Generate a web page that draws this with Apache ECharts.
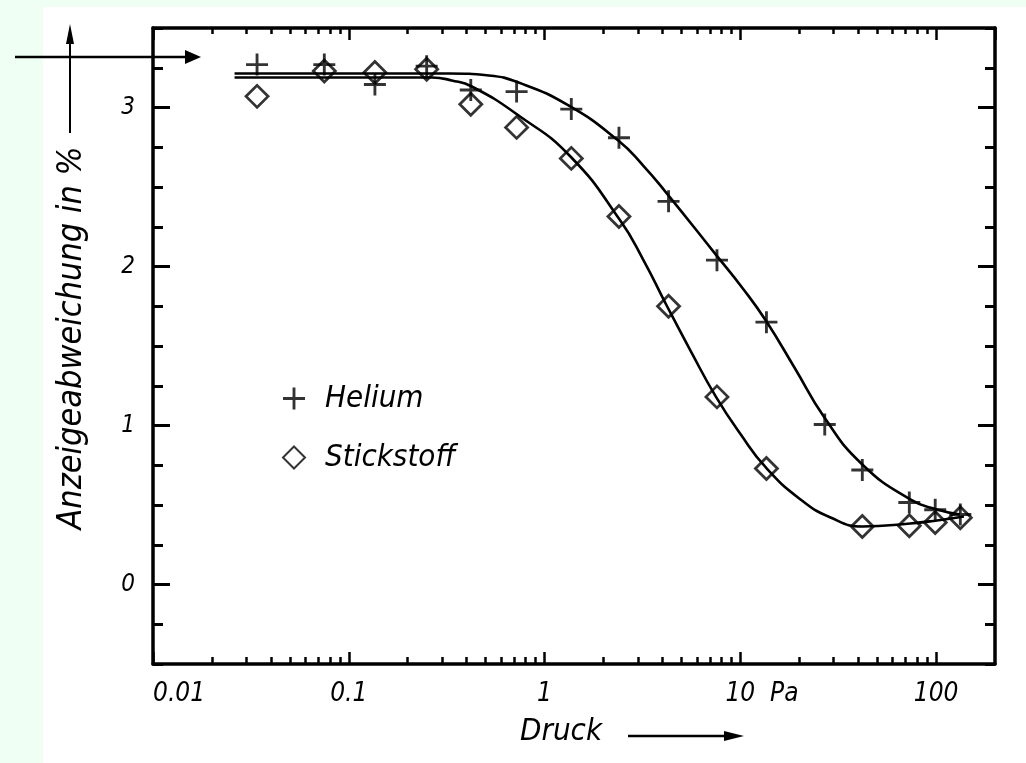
<!DOCTYPE html>
<html>
<head>
<meta charset="utf-8">
<title>Anzeigeabweichung</title>
<script src="https://cdn.jsdelivr.net/npm/echarts@6/dist/echarts.min.js"></script>
<style>
  html, body { margin: 0; padding: 0; background: #f0fff3; }
  #paper { position: absolute; left: 43px; top: 7px; width: 983px; height: 756px; background: #fff; }
  #chart { position: absolute; left: 0; top: 0; width: 1026px; height: 763px; }
</style>
</head>
<body>
<div id="paper"></div>
<div id="chart"></div>
<script>
// Messpunkte (Druck in Pa)
var druck      = [0.034, 0.075, 0.136, 0.25, 0.42, 0.72, 1.37, 2.4, 4.3, 7.6, 13.6, 27, 42, 73, 99, 133];
var helium     = [3.27, 3.27, 3.145, 3.26, 3.11, 3.10, 2.99, 2.81, 2.41, 2.04, 1.65, 1.006, 0.72, 0.516, 0.47, 0.44];
var stickstoff = [3.07, 3.23, 3.22, 3.24, 3.02, 2.875, 2.68, 2.315, 1.75, 1.18, 0.73, '-', 0.365, 0.37, 0.39, 0.42];

// Ausgleichskurven
var heliumKurveX = [0.0261, 0.1006, 0.325, 0.519, 0.737, 1.325, 2.38, 3.19, 4.18, 7.5, 10.3, 13.5, 18.9, 26.9, 42.0, 73.8, 101, 132.5];
var heliumKurveY = [3.214, 3.214, 3.214, 3.201, 3.157, 3.013, 2.792, 2.635, 2.465, 2.075, 1.862, 1.660, 1.365, 1.050, 0.755, 0.535, 0.472, 0.440];
var stickKurveX  = [0.0261, 0.1006, 0.266, 0.336, 0.425, 0.737, 1.356, 2.437, 3.19, 4.18, 5.6, 7.5, 10.06, 13.5, 20.3, 28.9, 42.0, 73.8, 101, 138.8];
var stickKurveY  = [3.189, 3.189, 3.189, 3.170, 3.132, 2.950, 2.692, 2.289, 2.044, 1.761, 1.465, 1.182, 0.943, 0.736, 0.535, 0.421, 0.365, 0.384, 0.403, 0.428];

// Achsenteilung
var yMajor = [0, 1, 2, 3];
var xMinor = [0.02, 0.03, 0.04, 0.05, 0.06, 0.07, 0.08, 0.09,
              0.2, 0.3, 0.4, 0.5, 0.6, 0.7, 0.8, 0.9,
              2, 3, 4, 5, 6, 7, 8, 9,
              20, 30, 40, 50, 60, 70, 80, 90];

var FONT = "'DejaVu Sans Condensed', 'Liberation Sans Narrow', 'DejaVu Sans', sans-serif";
var NARROW = "'Liberation Sans Narrow', 'DejaVu Sans Condensed', 'DejaVu Sans', sans-serif";
var PLUS = 'path://M8.7,0h2.6v8.7h8.7v2.6h-8.7v8.7h-2.6v-8.7h-8.7v-2.6h8.7z';
var xMinorLog = xMinor.map(function (v) { return Math.log10(v); });
var logMax = Math.log10(200);

function zip(xs, ys) {
    return xs.map(function (x, i) { return [x, ys[i]]; });
}

var chart = echarts.init(document.getElementById('chart'));

var lineBlack = { color: '#000', width: 3.5 };
var off = { show: false };

var option = {
    animation: false,
    backgroundColor: 'transparent',
    grid: {
        left: 153, right: 31, top: 28, bottom: 99,
        containLabel: false,
        outerBoundsMode: 'none'
    },
    legend: {
        data: ['Helium', 'Stickstoff'],
        orient: 'vertical',
        left: 277,
        top: 378,
        itemWidth: 22,
        itemHeight: 22,
        itemGap: 28,
        selectedMode: false,
        textStyle: {
            fontFamily: FONT, fontStyle: 'italic', fontSize: 31, color: '#000',
            padding: [0, 0, 0, 15]
        }
    },
    xAxis: [
        {
            type: 'log', logBase: 10, min: 0.01, max: 200, interval: 1,
            position: 'bottom',
            name: 'Druck', nameLocation: 'middle', nameGap: 52,
            nameTextStyle: {
                fontFamily: FONT, fontStyle: 'italic', fontSize: 31, color: '#000',
                padding: [0, 26, 0, 0]
            },
            axisLine: { show: true, onZero: false, lineStyle: lineBlack },
            axisTick: { show: true, inside: true, length: 12, lineStyle: { color: '#000', width: 2.5 } },
            axisLabel: {
                margin: 17,
                fontFamily: NARROW, fontStyle: 'italic', fontSize: 26, color: '#000',
                showMaxLabel: false,
                alignMinLabel: 'left',
                formatter: function (v) {
                    if (Math.abs(v - 10) < 1e-9) { return '{h|Pa  }10  Pa'; }
                    return String(v);
                },
                rich: {
                    h: { color: 'transparent', fontFamily: NARROW, fontStyle: 'italic', fontSize: 26 }
                }
            },
            splitLine: off
        },
        {
            type: 'value', min: -2, max: logMax, position: 'bottom',
            axisLine: { show: false, onZero: false },
            axisTick: { show: true, inside: true, length: 7, customValues: xMinorLog, lineStyle: { color: '#000', width: 2.5 } },
            axisLabel: off, splitLine: off
        },
        {
            type: 'log', logBase: 10, min: 0.01, max: 200, interval: 1, position: 'top',
            axisLine: { show: true, onZero: false, lineStyle: lineBlack },
            axisTick: { show: true, inside: true, length: 12, lineStyle: { color: '#000', width: 2.5 } },
            axisLabel: off, splitLine: off
        },
        {
            type: 'value', min: -2, max: logMax, position: 'top',
            axisLine: { show: false, onZero: false },
            axisTick: { show: true, inside: true, length: 6, customValues: xMinorLog, lineStyle: { color: '#000', width: 2.5 } },
            axisLabel: off, splitLine: off
        }
    ],
    yAxis: [
        {
            type: 'value', min: -0.5, max: 3.5, position: 'left',
            name: 'Anzeigeabweichung in %', nameLocation: 'middle', nameRotate: 90, nameGap: 64,
            nameTextStyle: {
                fontFamily: FONT, fontStyle: 'italic', fontSize: 34, color: '#000',
                padding: [0, 0, 0, 16]
            },
            axisLine: { show: true, onZero: false, lineStyle: lineBlack },
            axisTick: { show: true, inside: true, length: 17, customValues: yMajor, lineStyle: { color: '#000', width: 3 } },
            axisLabel: {
                customValues: yMajor, margin: 18,
                fontFamily: NARROW, fontStyle: 'italic', fontSize: 24, color: '#000'
            },
            splitLine: off
        },
        {
            type: 'value', min: -0.5, max: 3.5, interval: 0.25, position: 'left',
            axisLine: { show: false, onZero: false },
            axisTick: { show: true, inside: true, length: 10, lineStyle: { color: '#000', width: 3 } },
            axisLabel: off, splitLine: off
        },
        {
            type: 'value', min: -0.5, max: 3.5, position: 'right',
            axisLine: { show: true, onZero: false, lineStyle: lineBlack },
            axisTick: { show: true, inside: true, length: 17, customValues: yMajor, lineStyle: { color: '#000', width: 3 } },
            axisLabel: off, splitLine: off
        },
        {
            type: 'value', min: -0.5, max: 3.5, interval: 0.25, position: 'right',
            axisLine: { show: false, onZero: false },
            axisTick: { show: true, inside: true, length: 10, lineStyle: { color: '#000', width: 3 } },
            axisLabel: off, splitLine: off
        }
    ],
    series: [
        {
            name: 'Helium-Kurve', type: 'line', smooth: 0.5,
            showSymbol: false, silent: true,
            data: zip(heliumKurveX, heliumKurveY),
            lineStyle: { color: '#000', width: 2.6 }
        },
        {
            name: 'Stickstoff-Kurve', type: 'line', smooth: 0.5,
            showSymbol: false, silent: true,
            data: zip(stickKurveX, stickKurveY),
            lineStyle: { color: '#000', width: 2.6 }
        },
        {
            name: 'Helium', type: 'scatter',
            symbol: PLUS, symbolSize: 22,
            data: zip(druck, helium),
            itemStyle: { color: '#000' },
            z: 3
        },
        {
            name: 'Stickstoff', type: 'scatter',
            symbol: 'diamond', symbolSize: 22,
            data: zip(druck, stickstoff),
            itemStyle: { color: 'rgba(255,255,255,0)', borderColor: '#000', borderWidth: 2.8 },
            z: 3
        }
    ],
    graphic: [
        // Pfeil an der Ordinate
        { type: 'line', shape: { x1: 70, y1: 133, x2: 70, y2: 40 }, style: { stroke: '#000', lineWidth: 2 } },
        { type: 'polygon', shape: { points: [[70, 24], [66, 44], [74, 44]] }, style: { fill: '#000' } },
        // Markierungspfeil oben links
        { type: 'line', shape: { x1: 15, y1: 57, x2: 188, y2: 57 }, style: { stroke: '#000', lineWidth: 2.5 } },
        { type: 'polygon', shape: { points: [[201, 57], [185, 50], [185, 64]] }, style: { fill: '#000' } },
        // Pfeil hinter "Druck"
        { type: 'line', shape: { x1: 628, y1: 736, x2: 728, y2: 736 }, style: { stroke: '#000', lineWidth: 2.5 } },
        { type: 'polygon', shape: { points: [[744, 736], [724, 731], [724, 741]] }, style: { fill: '#000' } }
    ]
};

chart.setOption(option);
window.addEventListener('resize', chart.resize);
</script>
</body>
</html>
